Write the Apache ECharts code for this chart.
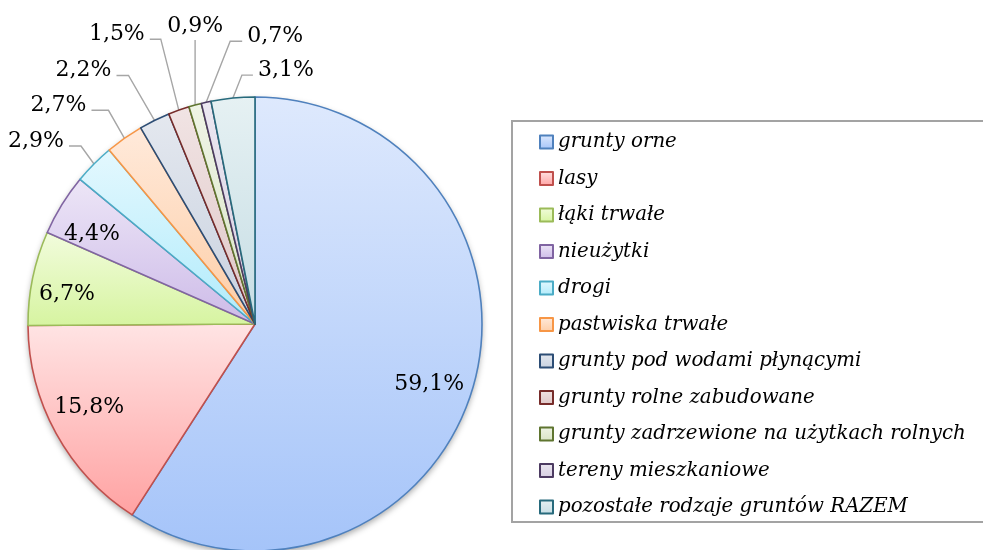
<!DOCTYPE html>
<html>
<head>
<meta charset="utf-8">
<script src="https://cdn.jsdelivr.net/npm/echarts@6/dist/echarts.min.js"></script>
<style>
  html, body { margin: 0; padding: 0; background: #fff; }
  #pie { width: 983px; height: 550px; }
</style>
</head>
<body>
<div id="pie"></div>
<script>
// kategorie i udziały (%)
const categories = [
  "grunty orne",
  "lasy",
  "łąki trwałe",
  "nieużytki",
  "drogi",
  "pastwiska trwałe",
  "grunty pod wodami płynącymi",
  "grunty rolne zabudowane",
  "grunty zadrzewione na użytkach rolnych",
  "tereny mieszkaniowe",
  "pozostałe rodzaje gruntów RAZEM",
];
const values = [59.1, 15.8, 6.7, 4.4, 2.9, 2.7, 2.2, 1.5, 0.9, 0.7, 3.1];

// gradient top, gradient bottom, border
const sliceStyles = [
  ["#dee9fd", "#a5c4f9", "#4f81bd"],
  ["#ffe4e4", "#ffa2a2", "#c0504d"],
  ["#f2fcdd", "#d6f4a0", "#9bbb59"],
  ["#ede6f7", "#cdbbe8", "#8064a2"],
  ["#e4f8fe", "#b0ebfb", "#4bacc6"],
  ["#ffeadb", "#fdcda6", "#f79646"],
  ["#e4e8ef", "#c8d1df", "#2c4d75"],
  ["#f1e4e4", "#dec6c6", "#772c2a"],
  ["#eff4e6", "#d9e4c6", "#5f7530"],
  ["#ece8f1", "#d6cee1", "#4d3b62"],
  ["#e6f1f3", "#c6dde4", "#276a7c"],
];

// leader lines of the small slices: [dx, dy] from slice edge to elbow, then horizontal length
const leaderLegs = {
  4: [-13, -18, -12],
  5: [-16, -28, -17],
  6: [-26, -45, -12],
  7: [-18, -71, -11],
  8: [0, -65, 0],
  9: [24, -61, 12],
  10: [9, -23, 11],
};

// small nudges of the inside labels
const insideOffsets = [[-5, 8], [-2, -7], [-5, 8], [-4, 8]];

const insideCount = 4; // first slices carry the label inside
const fontFamily = "DejaVu Serif";
const pieCenter = [255, 324];
const pieRadius = 227;

const fmt = (v) => v.toFixed(1).replace(".", ",") + "%";

const mainData = categories.map((name, i) => {
  const [c0, c1, border] = sliceStyles[i];
  return {
    name,
    value: values[i],
    itemStyle: {
      color: {
        type: "linear",
        x: 0, y: 0, x2: 0, y2: 1,
        colorStops: [
          { offset: 0, color: c0 },
          { offset: 1, color: c1 },
        ],
      },
      borderColor: border,
      borderWidth: 1.6,
    },
    label: { show: i >= insideCount },
    labelLine: { show: i >= insideCount },
  };
});

// transparent copy, only to put the big labels at ~0.8 of the radius
const labelData = categories.map((name, i) => ({
  name,
  value: values[i],
  label: i < insideCount ? { show: true, offset: insideOffsets[i] } : { show: false },
}));

const myChart = echarts.init(document.getElementById("pie"));
myChart.setOption({
  animation: false,
  graphic: [
    {
      type: "circle",
      z: -1,
      shape: { cx: pieCenter[0], cy: pieCenter[1], r: pieRadius },
      style: {
        fill: "#fff",
        shadowBlur: 6,
        shadowOffsetY: 3,
        shadowColor: "rgba(0,0,0,0.35)",
      },
    },
    {
      type: "rect",
      shape: { x: 512, y: 121, width: 480, height: 401 },
      style: { fill: "none", stroke: "#a3a3a3", lineWidth: 2 },
    },
  ],
  legend: {
    orient: "vertical",
    left: 534,
    top: 125,
    icon: "rect",
    itemWidth: 13,
    itemHeight: 13,
    itemGap: 12.5,
    data: categories,
    textStyle: {
      fontFamily,
      fontStyle: "italic",
      fontSize: 19.8,
      lineHeight: 24,
      color: "#000",
    },
  },
  series: [
    {
      type: "pie",
      center: pieCenter,
      radius: pieRadius,
      startAngle: 90,
      clockwise: true,
      avoidLabelOverlap: false,
      data: mainData,
      label: {
        position: "outside",
        formatter: (p) => fmt(p.value),
        fontFamily,
        fontSize: 22,
        color: "#000",
      },
      labelLine: {
        lineStyle: { color: "#a6a6a6", width: 1.4 },
      },
      labelLayout: (params) => {
        const leg = leaderLegs[params.dataIndex];
        if (!leg || !params.labelLinePoints) return {};
        const p0 = params.labelLinePoints[0];
        const p1 = [p0[0] + leg[0], p0[1] + leg[1]];
        const p2 = [p1[0] + leg[2], p1[1]];
        if (leg[2] === 0) {
          return {
            x: p2[0], y: p2[1] - 3,
            align: "center", verticalAlign: "bottom",
            labelLinePoints: [p0, p1, p2],
          };
        }
        return {
          x: p2[0] + (leg[2] < 0 ? -5 : 5),
          y: p2[1] - 5,
          align: leg[2] < 0 ? "right" : "left",
          verticalAlign: "middle",
          labelLinePoints: [p0, p1, p2],
        };
      },
      emphasis: { disabled: true },
    },
    {
      type: "pie",
      silent: true,
      center: pieCenter,
      radius: pieRadius * 1.62,
      startAngle: 90,
      clockwise: true,
      avoidLabelOverlap: false,
      data: labelData,
      itemStyle: { color: "rgba(0,0,0,0)" },
      label: {
        position: "inside",
        formatter: (p) => fmt(p.value),
        fontFamily,
        fontSize: 22,
        color: "#000",
      },
      labelLine: { show: false },
      emphasis: { disabled: true },
    },
  ],
});
</script>
</body>
</html>
